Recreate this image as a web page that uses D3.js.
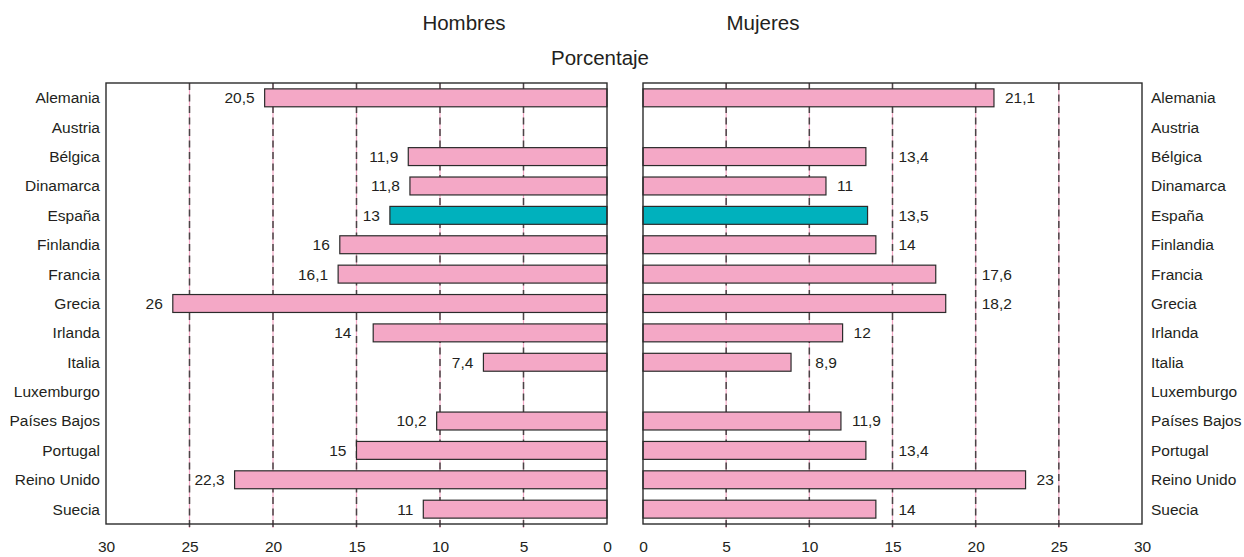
<!DOCTYPE html>
<html lang="es">
<head>
<meta charset="utf-8">
<title>Hombres y Mujeres — Porcentaje</title>
<script src="https://cdn.jsdelivr.net/npm/d3@7/dist/d3.min.js"></script>
<style>
  html, body { margin: 0; padding: 0; background: #ffffff; }
  svg { display: block; font-family: "Liberation Sans", Arial, Helvetica, sans-serif; }
  text { fill: #231f20; }
</style>
</head>
<body>
<svg id="chart" width="1244" height="557"></svg>
<script>
// Country list (top to bottom)
const countries = ["Alemania", "Austria", "Bélgica", "Dinamarca", "España", "Finlandia",
  "Francia", "Grecia", "Irlanda", "Italia", "Luxemburgo", "Países Bajos", "Portugal",
  "Reino Unido", "Suecia"];

// Percentages, men (left panel); null = no data
const hombres = [20.5, null, 11.9, 11.8, 13, 16, 16.1, 26, 14, 7.4, null, 10.2, 15, 22.3, 11];

// Percentages, women (right panel); null = no data
const mujeres = [21.1, null, 13.4, 11, 13.5, 14, 17.6, 18.2, 12, 8.9, null, 11.9, 13.4, 23, 14];

// Axis tick values
const tickValues = [0, 5, 10, 15, 20, 25, 30];
const gridValues = [5, 10, 15, 20, 25];

// Highlighted country
const highlight = "España";

const svg = d3.select("#chart");
const plotTop = 83, plotBottom = 524;
const colors = { bar: "#f4a8c6", highlight: "#00b1bd", stroke: "#2b2b2b",
                 gridPink: "#f3a9c6", gridDash: "#4a4446", frame: "#2b2b2b" };

const y = d3.scaleBand().domain(countries).range([plotTop, plotBottom])
  .paddingInner(0.39).paddingOuter(0.2);

const xL = d3.scaleLinear().domain([0, 30]).range([607, 106]);
const xR = d3.scaleLinear().domain([0, 30]).range([643, 1142]);

const fmt = v => String(v).replace(".", ",");

// Titles
svg.append("text").attr("x", 464).attr("y", 30).attr("text-anchor", "middle")
  .style("font-size", "20.5px").text("Hombres");
svg.append("text").attr("x", 763).attr("y", 30).attr("text-anchor", "middle")
  .style("font-size", "20.5px").text("Mujeres");
svg.append("text").attr("x", 600).attr("y", 65).attr("text-anchor", "middle")
  .style("font-size", "20.5px").text("Porcentaje");

function panel(x, values, side) {
  const g = svg.append("g");
  const [r0, r1] = x.range();
  const left = Math.min(r0, r1), right = Math.max(r0, r1);

  // Grid lines: thin pink line under a dark dashed line
  const grid = g.append("g");
  grid.selectAll("line.pink").data(gridValues).join("line")
    .attr("class", "pink")
    .attr("x1", d => x(d)).attr("x2", d => x(d))
    .attr("y1", plotTop).attr("y2", plotBottom + 4)
    .attr("stroke", colors.gridPink).attr("stroke-width", 1.2);
  grid.selectAll("line.dash").data(gridValues).join("line")
    .attr("class", "dash")
    .attr("x1", d => x(d)).attr("x2", d => x(d))
    .attr("y1", plotTop).attr("y2", plotBottom + 4)
    .attr("stroke", colors.gridDash).attr("stroke-width", 1.5)
    .attr("stroke-dasharray", "7,4.5");

  const rows = countries.map((c, i) => ({ c, v: values[i] })).filter(d => d.v != null);

  // Bars
  g.selectAll("rect.bar").data(rows).join("rect")
    .attr("class", "bar")
    .attr("x", d => Math.min(x(0), x(d.v)))
    .attr("width", d => Math.abs(x(d.v) - x(0)))
    .attr("y", d => y(d.c))
    .attr("height", y.bandwidth())
    .attr("fill", d => d.c === highlight ? colors.highlight : colors.bar)
    .attr("stroke", colors.stroke).attr("stroke-width", 1.2);

  // Value labels, nudged off the grid lines when they would cross one
  const gx = gridValues.map(v => x(v));
  g.selectAll("text.val").data(rows).join("text")
    .attr("class", "val")
    .style("font-size", "15.5px")
    .attr("y", d => y(d.c) + y.bandwidth() / 2)
    .attr("dy", "0.35em")
    .text(d => fmt(d.v))
    .each(function (d) {
      const w = this.getComputedTextLength();
      const end = x(d.v);
      let a, b;
      if (side === "left") {
        b = end - 10; a = b - w;
        for (let k = 0; k < 3; k++) {
          const hit = gx.find(p => a - 3 < p && b + 3 > p);
          if (hit === undefined) break;
          b = hit - 5; a = b - w;
        }
      } else {
        a = end + 11; b = a + w;
        for (let k = 0; k < 3; k++) {
          const hit = gx.find(p => a - 3 < p && b + 3 > p);
          if (hit === undefined) break;
          a = hit + 6; b = a + w;
        }
      }
      d3.select(this).attr("x", a).attr("text-anchor", "start");
    });

  // Category labels
  g.selectAll("text.cat").data(countries).join("text")
    .attr("class", "cat")
    .style("font-size", "15.5px")
    .attr("x", side === "left" ? left - 6 : right + 9)
    .attr("y", d => y(d) + y.bandwidth() / 2)
    .attr("dy", "0.35em")
    .attr("text-anchor", side === "left" ? "end" : "start")
    .text(d => d);

  // Bottom axis
  const axis = g.append("g").attr("transform", `translate(0,${plotBottom})`)
    .call(d3.axisBottom(x).tickValues(tickValues).tickSize(0).tickPadding(17).tickFormat(d3.format("d")));
  axis.select(".domain").remove();
  axis.selectAll("text").style("font-size", "15.5px")
    .style("font-family", "\"Liberation Sans\", Arial, Helvetica, sans-serif").attr("fill", "#231f20");

  // Frame
  g.append("rect").attr("x", left).attr("y", plotTop)
    .attr("width", right - left).attr("height", plotBottom - plotTop)
    .attr("fill", "none").attr("stroke", colors.frame).attr("stroke-width", 1.4);
}

panel(xL, hombres, "left");
panel(xR, mujeres, "right");
</script>
</body>
</html>
